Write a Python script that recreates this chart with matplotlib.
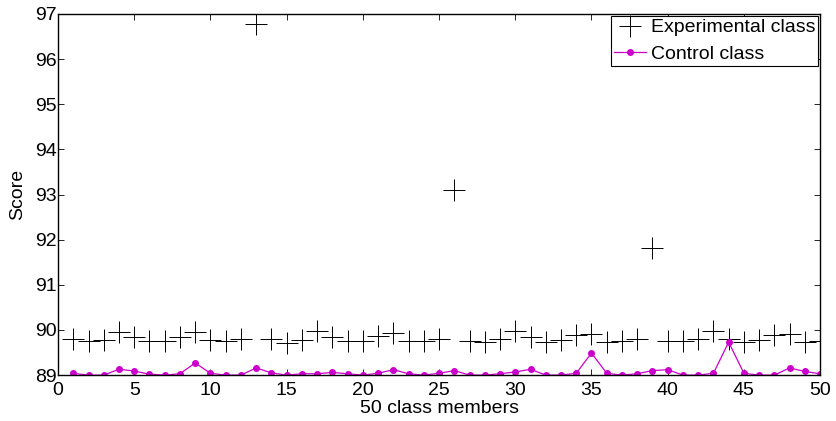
import matplotlib
matplotlib.use('Agg')
import matplotlib.pyplot as plt
import numpy as np

plt.rcParams['font.family'] = ['Liberation Sans', 'DejaVu Sans']

# scores, one per class member (1..50)
members = np.arange(1, 51)
experimental = [
    89.80, 89.75, 89.78, 89.95, 89.85, 89.75, 89.75, 89.85, 89.95, 89.78,
    89.75, 89.80, 96.78, 89.80, 89.72, 89.78, 89.98, 89.85, 89.75, 89.75,
    89.87, 89.93, 89.75, 89.75, 89.80, 93.10, 89.75, 89.73, 89.80, 89.98,
    89.85, 89.73, 89.78, 89.88, 89.92, 89.73, 89.75, 89.80, 91.82, 89.75,
    89.75, 89.80, 89.98, 89.80, 89.73, 89.78, 89.88, 89.90, 89.73, 89.75,
]
control = [
    89.04, 89.00, 89.00, 89.13, 89.09, 89.02, 89.00, 89.03, 89.27, 89.04,
    89.00, 89.00, 89.16, 89.05, 89.00, 89.03, 89.03, 89.06, 89.03, 89.00,
    89.04, 89.12, 89.03, 89.00, 89.04, 89.10, 89.00, 89.00, 89.03, 89.07,
    89.13, 89.00, 89.00, 89.04, 89.49, 89.04, 89.00, 89.03, 89.10, 89.12,
    89.00, 89.00, 89.04, 89.73, 89.04, 89.00, 89.00, 89.16, 89.08, 89.03,
]

fig = plt.figure(figsize=(8.36, 4.21), dpi=100)
ax = fig.add_axes([0.0694, 0.109, 0.9116, 0.858])

ax.plot(members, experimental, linestyle='none', marker='+', color='black',
        markersize=16, markeredgewidth=0.7, label='Experimental class')
ax.plot(members, control, linestyle='-', linewidth=0.9, marker='.',
        color='#CC00CC', markersize=8, label='Control class')

ax.set_xlim(0, 50)
ax.set_ylim(89, 97)
ax.set_xticks(np.arange(0, 51, 5))
ax.set_yticks(np.arange(89, 98, 1))
ax.tick_params(axis='both', direction='in', top=True, right=True,
               labelsize=14, length=4, width=0.6)
ax.tick_params(axis='x', pad=5)
ax.tick_params(axis='y', pad=1)
for sp in ax.spines.values():
    sp.set_linewidth(1.0)

ax.set_xlabel('50 class members', fontsize=14, labelpad=1)
ax.set_ylabel('Score', fontsize=14, labelpad=6)

leg = ax.legend(loc='upper right', fontsize=14, frameon=True, fancybox=False,
                edgecolor='black', framealpha=1, borderpad=0.15,
                handlelength=1.65, handletextpad=0.25, labelspacing=0.45,
                borderaxespad=0.1)
leg.get_frame().set_linewidth(0.8)

fig.savefig('out.png', dpi=100)
